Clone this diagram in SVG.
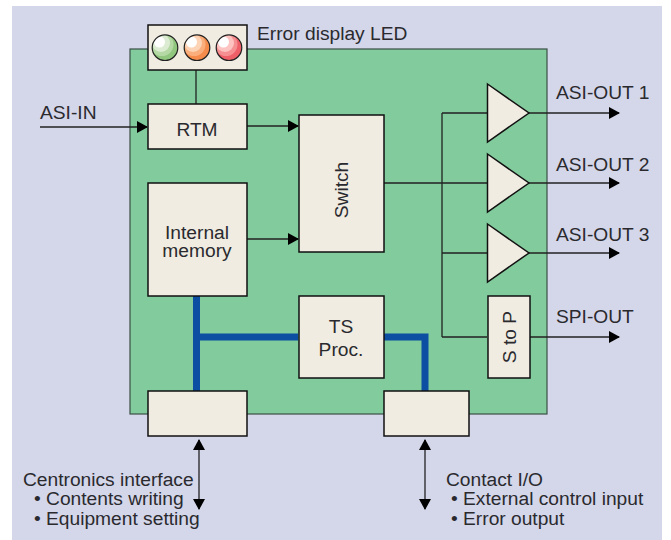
<svg xmlns="http://www.w3.org/2000/svg" width="671" height="540" viewBox="0 0 671 540">
<style>
.box{fill:#f0ece2;stroke:#111;stroke-width:1.5}
.ln{fill:none;stroke:#222;stroke-width:1.3}
.bus{fill:none;stroke:#0b4ea2;stroke-width:7}
text{font-family:"Liberation Sans",Arial,sans-serif;font-size:19.2px;fill:#2a2a2e}
.c{text-anchor:middle}
.rim{fill:none;stroke:#222;stroke-width:1.2}
.hi{fill:#fff}
</style>
<defs>
<marker id="a" markerUnits="userSpaceOnUse" markerWidth="11" markerHeight="12" refX="10" refY="6" orient="auto-start-reverse"><path d="M0 0L11 6L0 12Z" fill="#000"/></marker>
<clipPath id="k1"><circle cx="165" cy="47.700" r="12.800"/></clipPath>
<clipPath id="k2"><circle cx="197" cy="47.700" r="12.800"/></clipPath>
<clipPath id="k3"><circle cx="229" cy="47.700" r="12.800"/></clipPath>
</defs>
<rect x="12" y="6" width="650" height="534" fill="#d4d6ea"/>
<rect id="board" x="130" y="49" width="417" height="365" fill="#82cb9d" stroke="#3a4f45" stroke-width="1.2"/>
<g id="connectors">
<path class="ln" d="M196 70V104"/>
<path class="ln" marker-end="url(#a)" d="M40 127H147"/>
<path class="ln" marker-end="url(#a)" d="M247 126H298"/>
<path class="ln" marker-end="url(#a)" d="M247 239H298"/>
<path class="ln" d="M384 183H487M442 113H487M442 113V337M442 253H487M442 337H487"/>
<path class="ln" marker-end="url(#a)" d="M529 113H619"/>
<path class="ln" marker-end="url(#a)" d="M529 183H619"/>
<path class="ln" marker-end="url(#a)" d="M529 253H619"/>
<path class="ln" marker-end="url(#a)" d="M530 337H619"/>
<path class="ln" marker-start="url(#a)" marker-end="url(#a)" d="M199 440V509"/>
<path class="ln" marker-start="url(#a)" marker-end="url(#a)" d="M425 440V509"/>
<path class="bus" d="M196.500 296V391M196.500 337H298M384 337H425V391"/>
</g>
<g id="led"><rect class="box" x="148" y="25" width="99" height="45"/>
<g clip-path="url(#k1)"><circle cx="165" cy="47.700" r="13" fill="#90c67e"/><circle cx="162" cy="44.500" r="11.500" fill="#b5d9a4"/><circle cx="161" cy="43" r="9" fill="#dcecd2"/><circle cx="159.500" cy="42" r="5.500" class="hi"/></g><circle cx="165" cy="47.700" r="12.800" class="rim"/>
<g clip-path="url(#k2)"><circle cx="197" cy="47.700" r="13" fill="#f58c4c"/><circle cx="194" cy="44.500" r="11.500" fill="#f9ae7c"/><circle cx="193" cy="43" r="9" fill="#fdd3b6"/><circle cx="191.500" cy="42" r="5.500" class="hi"/></g><circle cx="197" cy="47.700" r="12.800" class="rim"/>
<g clip-path="url(#k3)"><circle cx="229" cy="47.700" r="13" fill="#ee5f68"/><circle cx="226" cy="44.500" r="11.500" fill="#f68f92"/><circle cx="225" cy="43" r="9" fill="#fcc3c1"/><circle cx="223.500" cy="42" r="5.500" class="hi"/></g><circle cx="229" cy="47.700" r="12.800" class="rim"/></g>
<g id="rtm"><rect class="box" x="148" y="104" width="99" height="45"/><text class="c" x="197" y="135.500">RTM</text></g>
<g id="memory"><rect class="box" x="148" y="183" width="99" height="113"/><text class="c" x="197" y="239">Internal</text><text class="c" x="197" y="257">memory</text></g>
<g id="switch"><rect class="box" x="299" y="115" width="85" height="137"/><text class="c" transform="translate(348.300 190) rotate(-90)">Switch</text></g>
<g id="ts"><rect class="box" x="299" y="296" width="85" height="82"/><text class="c" x="341" y="333">TS</text><text class="c" x="341" y="356">Proc.</text></g>
<g id="amp1"><path class="box" d="M487.500 84L529 113L487.500 142Z"/></g>
<g id="amp2"><path class="box" d="M487.500 154L529 183L487.500 212Z"/></g>
<g id="amp3"><path class="box" d="M487.500 224L529 253L487.500 282Z"/></g>
<g id="stop"><rect class="box" x="488" y="296" width="42" height="82"/><text class="c" transform="translate(515.700 337) rotate(-90)">S to P</text></g>
<g id="centronics"><rect class="box" x="148" y="391" width="99" height="45"/></g>
<g id="contact"><rect class="box" x="384" y="391" width="85" height="45"/></g>
<g id="labels">
<text x="257" y="40">Error display LED</text>
<text x="40" y="119">ASI-IN</text>
<text x="556" y="99">ASI-OUT 1</text>
<text x="556" y="171">ASI-OUT 2</text>
<text x="556" y="241">ASI-OUT 3</text>
<text x="556" y="323">SPI-OUT</text>
<text x="23" y="485.500">Centronics interface</text>
<text x="34" y="505">• Contents writing</text>
<text x="34" y="525">• Equipment setting</text>
<text x="446" y="485.500">Contact I/O</text>
<text x="451" y="505">• External control input</text>
<text x="451" y="525">• Error output</text>
</g>
</svg>
